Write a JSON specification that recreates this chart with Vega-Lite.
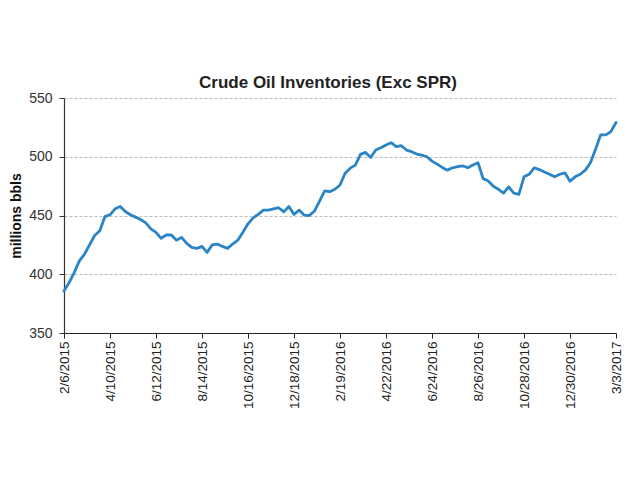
{
  "$schema": "https://vega.github.io/schema/vega-lite/v6.json",
  "autosize": "none",
  "width": 552,
  "height": 235,
  "padding": {"left": 64, "top": 98, "right": 14, "bottom": 157},
  "background": "white",
  "title": {"text": "Crude Oil Inventories (Exc SPR)", "font": "Liberation Sans", "fontSize": 17, "fontWeight": "bold", "color": "#222", "offset": 0, "dy": 1, "dx": -12, "anchor": "middle", "frame": "group"},
  "config": {"view": {"stroke": null}},
  "data": {"values": [
    {"date": "2015-02-06", "v": 385.7}, {"date": "2015-02-13", "v": 392.9}, {"date": "2015-02-20", "v": 401.4}, {"date": "2015-02-27", "v": 411.4},
    {"date": "2015-03-06", "v": 417}, {"date": "2015-03-13", "v": 425}, {"date": "2015-03-20", "v": 433}, {"date": "2015-03-27", "v": 437},
    {"date": "2015-04-03", "v": 449}, {"date": "2015-04-10", "v": 450.6}, {"date": "2015-04-17", "v": 455.7}, {"date": "2015-04-24", "v": 457.7},
    {"date": "2015-05-01", "v": 453.4}, {"date": "2015-05-08", "v": 450.6}, {"date": "2015-05-15", "v": 448.6}, {"date": "2015-05-22", "v": 446.6}, {"date": "2015-05-29", "v": 443.7},
    {"date": "2015-06-05", "v": 438.6}, {"date": "2015-06-12", "v": 435.7}, {"date": "2015-06-19", "v": 430.6}, {"date": "2015-06-26", "v": 433.4},
    {"date": "2015-07-03", "v": 433.4}, {"date": "2015-07-10", "v": 429}, {"date": "2015-07-17", "v": 431.4}, {"date": "2015-07-24", "v": 426.3}, {"date": "2015-07-31", "v": 422.9},
    {"date": "2015-08-07", "v": 422}, {"date": "2015-08-14", "v": 423.7}, {"date": "2015-08-21", "v": 418.6}, {"date": "2015-08-28", "v": 425},
    {"date": "2015-09-04", "v": 425.7}, {"date": "2015-09-11", "v": 423.7}, {"date": "2015-09-18", "v": 422}, {"date": "2015-09-25", "v": 425.7},
    {"date": "2015-10-02", "v": 429}, {"date": "2015-10-09", "v": 435.7}, {"date": "2015-10-16", "v": 442.9}, {"date": "2015-10-23", "v": 448}, {"date": "2015-10-30", "v": 451},
    {"date": "2015-11-06", "v": 454.6}, {"date": "2015-11-13", "v": 454.6}, {"date": "2015-11-20", "v": 455.7}, {"date": "2015-11-27", "v": 456.6},
    {"date": "2015-12-04", "v": 453.1}, {"date": "2015-12-11", "v": 457.7}, {"date": "2015-12-18", "v": 450.9}, {"date": "2015-12-25", "v": 454.6},
    {"date": "2016-01-01", "v": 450.3}, {"date": "2016-01-08", "v": 450}, {"date": "2016-01-15", "v": 453.7}, {"date": "2016-01-22", "v": 462.3}, {"date": "2016-01-29", "v": 470.9},
    {"date": "2016-02-05", "v": 470.3}, {"date": "2016-02-12", "v": 472.3}, {"date": "2016-02-19", "v": 476}, {"date": "2016-02-26", "v": 486},
    {"date": "2016-03-04", "v": 490.3}, {"date": "2016-03-11", "v": 492.9}, {"date": "2016-03-18", "v": 502}, {"date": "2016-03-25", "v": 503.7},
    {"date": "2016-04-01", "v": 499.4}, {"date": "2016-04-08", "v": 505.7}, {"date": "2016-04-15", "v": 507.7}, {"date": "2016-04-22", "v": 510}, {"date": "2016-04-29", "v": 512},
    {"date": "2016-05-06", "v": 508.6}, {"date": "2016-05-13", "v": 509.4}, {"date": "2016-05-20", "v": 505.7}, {"date": "2016-05-27", "v": 504.3},
    {"date": "2016-06-03", "v": 502.3}, {"date": "2016-06-10", "v": 501.4}, {"date": "2016-06-17", "v": 500}, {"date": "2016-06-24", "v": 496.3},
    {"date": "2016-07-01", "v": 493.7}, {"date": "2016-07-08", "v": 490.9}, {"date": "2016-07-15", "v": 488.6}, {"date": "2016-07-22", "v": 490.6}, {"date": "2016-07-29", "v": 491.5},
    {"date": "2016-08-05", "v": 492.3}, {"date": "2016-08-12", "v": 490.6}, {"date": "2016-08-19", "v": 493}, {"date": "2016-08-26", "v": 494.9},
    {"date": "2016-09-02", "v": 481.4}, {"date": "2016-09-09", "v": 479.4}, {"date": "2016-09-16", "v": 474.9}, {"date": "2016-09-23", "v": 472.3}, {"date": "2016-09-30", "v": 469.1},
    {"date": "2016-10-07", "v": 474.3}, {"date": "2016-10-14", "v": 469.1}, {"date": "2016-10-21", "v": 468}, {"date": "2016-10-28", "v": 482.9},
    {"date": "2016-11-04", "v": 485.1}, {"date": "2016-11-11", "v": 490.6}, {"date": "2016-11-18", "v": 489.1}, {"date": "2016-11-25", "v": 487.1},
    {"date": "2016-12-02", "v": 485.1}, {"date": "2016-12-09", "v": 482.9}, {"date": "2016-12-16", "v": 485.1}, {"date": "2016-12-23", "v": 486.3}, {"date": "2016-12-30", "v": 479.1},
    {"date": "2017-01-06", "v": 482.9}, {"date": "2017-01-13", "v": 485.1}, {"date": "2017-01-20", "v": 488.6}, {"date": "2017-01-27", "v": 494.9},
    {"date": "2017-02-03", "v": 506.3}, {"date": "2017-02-10", "v": 518.6}, {"date": "2017-02-17", "v": 518.6}, {"date": "2017-02-24", "v": 521.4},
    {"date": "2017-03-03", "v": 529.1}
  ]},
  "mark": {"type": "line", "color": "#2a84c6", "strokeWidth": 2.8, "strokeJoin": "round", "strokeCap": "round"},
  "encoding": {
    "x": {
      "field": "date", "type": "temporal",
      "scale": {"type": "utc", "domain": [{"year": 2015, "month": 2, "date": 6, "utc": true}, {"year": 2017, "month": 3, "date": 3, "utc": true}], "nice": false},
      "axis": {
        "title": null, "grid": false,
        "values": [
          {"year": 2015, "month": 2, "date": 6, "utc": true}, {"year": 2015, "month": 4, "date": 10, "utc": true}, {"year": 2015, "month": 6, "date": 12, "utc": true},
          {"year": 2015, "month": 8, "date": 14, "utc": true}, {"year": 2015, "month": 10, "date": 16, "utc": true}, {"year": 2015, "month": 12, "date": 18, "utc": true},
          {"year": 2016, "month": 2, "date": 19, "utc": true}, {"year": 2016, "month": 4, "date": 22, "utc": true}, {"year": 2016, "month": 6, "date": 24, "utc": true},
          {"year": 2016, "month": 8, "date": 26, "utc": true}, {"year": 2016, "month": 10, "date": 28, "utc": true}, {"year": 2016, "month": 12, "date": 30, "utc": true},
          {"year": 2017, "month": 3, "date": 3, "utc": true}
        ],
        "format": "%-m/%-d/%Y",
        "labelAngle": -90, "labelAlign": "right", "labelBaseline": "middle",
        "labelFont": "Liberation Sans", "labelFontSize": 13.5, "labelColor": "#222",
        "labelPadding": 3, "labelOverlap": false, "labelFlush": false,
        "domainColor": "#222", "domainWidth": 1.2, "tickColor": "#222", "tickSize": 5
      }
    },
    "y": {
      "field": "v", "type": "quantitative",
      "scale": {"domain": [350, 550], "nice": false, "zero": false},
      "axis": {
        "title": "millions bbls", "titleFont": "Liberation Sans", "titleFontSize": 14, "titleFontWeight": "bold", "titleColor": "#111", "titlePadding": 5,
        "values": [350, 400, 450, 500, 550],
        "labelFont": "Liberation Sans", "labelFontSize": 14, "labelColor": "#333", "labelPadding": 7,
        "domainColor": "#333", "domainWidth": 1.2, "tickColor": "#333", "tickSize": 5,
        "grid": true, "gridColor": "#bbbbbb", "gridDash": [3, 2], "gridWidth": 1
      }
    }
  }
}
